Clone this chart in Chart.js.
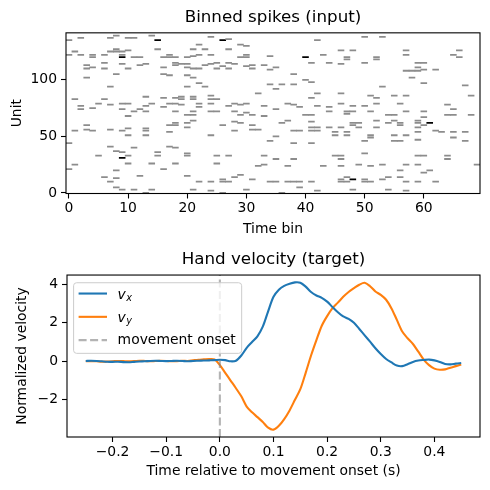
<!DOCTYPE html>
<html>
<head>
<meta charset="utf-8">
<title>Binned spikes / Hand velocity</title>
<script src="https://cdn.jsdelivr.net/npm/chart.js"></script>
<style>
  html, body { margin: 0; padding: 0; background: #fff; }
  .panel { position: absolute; left: 0; width: 490px; height: 245px; }
  #top { top: 0; }
  #bottom { top: 245px; }
</style>
</head>
<body>
<div class="panel" id="top"><canvas id="spikeChart" width="490" height="245"></canvas></div>
<div class="panel" id="bottom"><canvas id="velChart" width="490" height="245"></canvas></div>
<script>
// ---- raster data (time bin, unit) ----
const nBins = 70;
const nUnits = 142;
const binTicks = [0, 10, 20, 30, 40, 50, 60];
const unitTicks = [0, 50, 100];

// single spikes
const spikeBins = [
  0,2,7,10,11,8,14,22,15,21,23,10,1,7,8,9,8,0,2,4,6,9,17,22,4,11,12,16,17,18,20,21,6,18,9,13,19,20,3,12,18,23,4,16,20,3,6,10,21,22,8,16,17,20,3,21,22,7,20,23,13,19,16,18,21,1,6,19,21,5,9,10,14,17,18,22,7,19,2,13,16,22,4,2,9,12,13,11,18,21,
  24,27,42,29,30,27,46,24,30,43,34,29,30,25,27,41,44,24,28,46,31,33,26,30,35,25,27,31,34,38,40,41,34,36,38,35,32,42,46,24,41,24,25,24,28,30,37,46,29,38,27,33,42,39,44,35,24,25,28,44,30,
  50,53,48,57,66,57,65,47,52,66,47,52,50,59,60,59,60,62,57,58,59,58,60,67,53,51,55,57,68,52,52,56,64,48,50,65,47,48,51,57,60,
  20,21,10,21,18,20,3,17,18,20,10,13,3,7,1,4,9,13,17,10,13,0,7,17,11,18,8,9,15,20,5,10,15,20,10,14,18,1,0,16,8,12,20,6,8,7,22,8,9,11,14,21,13,
  29,31,40,41,33,37,28,41,29,36,26,31,41,42,44,46,31,32,28,38,39,41,42,45,24,45,35,34,38,41,25,27,33,45,46,35,38,46,25,33,32,37,43,46,29,28,26,31,46,24,26,27,34,35,37,38,39,41,46,39,30,24,42,26,36,
  47,54,55,64,65,68,60,52,55,59,48,49,54,56,59,48,56,60,49,52,59,62,47,59,63,65,67,47,51,55,57,51,65,59,50,55,56,67,50,59,60,64,64,49,53,57,59,69,51,56,61,60,56,47,54,50,53,47,50,51,57,59,62,48,54,57
];
const spikeUnits = [
  135,137,137,137,137,139,139,131,127,127,127,126,125,125,125,125,127,122,122,122,122,122,122,122,120,120,120,120,120,120,120,121,115,115,114,114,114,114,113,113,113,113,111,111,111,110,110,110,110,110,105,105,104,104,102,102,97,94,94,94,85,85,84,84,85,83,83,83,83,79,79,79,79,79,79,79,78,78,77,77,76,76,75,74,74,74,72,72,72,72,
  138,136,135,131,130,127,126,122,122,122,121,120,120,115,115,115,115,114,114,114,113,113,112,112,111,110,110,110,109,105,100,98,96,96,96,92,88,88,88,86,84,83,83,79,79,79,79,79,78,78,77,77,77,76,76,74,72,72,72,72,71,
  138,138,126,126,126,122,122,120,120,120,118,118,115,115,115,111,109,109,108,108,108,102,97,95,94,86,86,86,86,84,79,79,78,77,77,74,72,72,72,72,72,
  69,69,68,64,62,62,60,60,60,58,57,57,56,56,55,55,55,55,54,51,51,44,41,41,40,40,37,36,36,35,33,33,33,33,26,26,26,25,21,21,20,15,15,14,13,10,10,5,3,3,3,3,0,
  69,69,69,69,68,64,63,63,62,62,60,60,58,58,58,58,56,56,55,55,55,55,55,54,51,51,50,46,44,44,33,33,33,33,33,30,30,30,26,25,24,24,24,24,16,14,12,12,12,10,10,10,10,10,10,10,10,10,10,5,3,2,2,0,0,
  70,69,69,69,69,69,67,64,64,64,62,62,62,62,62,60,60,60,58,58,58,55,54,54,54,54,54,51,51,51,51,49,49,47,46,46,46,46,35,33,33,33,30,25,25,25,25,25,24,20,20,18,14,14,14,12,12,10,10,10,10,10,10,3,3,2
];
// double spikes (count 2)
const doubleBins = [15, 9, 26, 40, 9, 61, 48];
const doubleUnits = [135, 120, 135, 120, 31, 62, 12];

// ---- hand velocity data ----
const times = [
  -0.25,-0.24,-0.23,-0.22,-0.21,-0.20,-0.19,-0.18,-0.17,-0.16,-0.15,-0.14,-0.13,-0.12,-0.11,-0.10,-0.09,-0.08,-0.07,-0.06,-0.05,-0.04,-0.03,-0.02,-0.01,
  0.00,0.01,0.02,0.03,0.04,0.05,0.06,0.07,0.08,0.09,0.10,0.11,0.12,0.13,0.14,0.15,0.16,0.17,0.18,0.19,0.20,0.21,0.22,0.23,0.24,0.25,0.26,0.27,0.28,0.29,
  0.30,0.31,0.32,0.33,0.34,0.35,0.36,0.37,0.38,0.39,0.40,0.41,0.42,0.43,0.44,0.45
];
const vx = [
  0.02,0.03,0.02,0.00,-0.02,-0.03,-0.02,-0.04,-0.05,-0.03,-0.01,0.00,0.02,0.03,0.02,0.01,0.02,0.03,0.02,0.00,0.02,0.03,0.04,0.05,0.06,
  0.08,0.06,0.00,0.03,0.30,0.70,1.00,1.30,1.80,2.60,3.35,3.72,3.92,4.03,4.10,4.08,3.88,3.60,3.42,3.30,3.10,2.82,2.55,2.33,2.20,2.00,1.68,1.35,1.02,0.68,
  0.38,0.12,-0.06,-0.22,-0.25,-0.15,-0.03,0.04,0.07,0.09,0.05,-0.03,-0.14,-0.16,-0.12,-0.09
];
const vy = [
  0.00,0.01,0.00,-0.02,-0.01,0.00,0.02,0.01,0.00,0.01,0.03,0.02,0.00,0.02,0.03,0.02,0.00,0.01,0.03,0.02,0.05,0.08,0.10,0.12,0.10,
  -0.20,-0.60,-1.00,-1.40,-1.82,-2.35,-2.65,-2.90,-3.15,-3.45,-3.55,-3.35,-3.00,-2.55,-2.00,-1.45,-0.60,0.30,1.10,1.85,2.35,2.76,3.05,3.35,3.60,3.80,3.98,4.08,3.90,3.63,
  3.45,3.20,2.75,2.15,1.55,1.20,0.90,0.50,0.09,-0.20,-0.38,-0.44,-0.42,-0.33,-0.25,-0.16
];
const seriesLabels = ['v_x', 'v_y'];
const onsetTime = 0;
const onsetLabel = 'movement onset';
const timeTicks = [-0.2, -0.1, 0.0, 0.1, 0.2, 0.3, 0.4];
const velTicks = [-2, 0, 2, 4];

// ---- common look ----
const FONT = 'DejaVu Sans';
const FS = 13.9;
Chart.defaults.font.family = FONT;
Chart.defaults.font.size = FS;
Chart.defaults.color = '#000';
const minus = s => String(s).replace('-', '\u2212');

const framePlugin = {
  id: 'frame',
  afterDraw(chart) {
    const {ctx, chartArea: a} = chart;
    ctx.save();
    ctx.strokeStyle = '#000';
    ctx.lineWidth = 1.1;
    ctx.strokeRect(a.left, a.top, a.right - a.left, a.bottom - a.top);
    ctx.restore();
  }
};

function tickGrid() {
  return {display: true, drawOnChartArea: false, drawTicks: true, tickLength: 5, tickColor: '#000', tickWidth: 1.1, offset: false};
}

// ---- top: spike raster ----
const singles = spikeBins.map((b, i) => ({x: b, y: [spikeUnits[i] - 0.5, spikeUnits[i] + 0.5]}));
const doubles = doubleBins.map((b, i) => ({x: b, y: [doubleUnits[i] - 0.5, doubleUnits[i] + 0.5]}));

new Chart(document.getElementById('spikeChart'), {
  type: 'bar',
  data: {
    datasets: [
      {label: '1', data: singles, backgroundColor: '#8c8c8c'},
      {label: '2', data: doubles, backgroundColor: '#000000'}
    ]
  },
  options: {
    responsive: false,
    animation: false,
    layout: {padding: {left: 0, right: 10, top: 0, bottom: 0}},
    datasets: {bar: {grouped: false, barPercentage: 1, categoryPercentage: 1, borderWidth: 0}},
    plugins: {
      legend: {display: false},
      tooltip: {enabled: false},
      title: {display: true, fullSize: false, text: 'Binned spikes (input)', color: '#000',
              font: {size: 16.7, weight: 'normal'}, padding: {top: 8, bottom: 4.8}}
    },
    scales: {
      x: {
        type: 'linear', min: -0.5, max: nBins - 0.5, offset: false,
        afterBuildTicks: s => { s.ticks = binTicks.map(v => ({value: v})); },
        afterFit: s => { s.height = 51.5; },
        grid: tickGrid(),
        border: {display: false},
        ticks: {padding: 2, maxRotation: 0, autoSkip: false},
        title: {display: true, text: 'Time bin', padding: {top: 0, bottom: 7.7}}
      },
      y: {
        type: 'linear', min: -0.5, max: nUnits - 0.5,
        afterBuildTicks: s => { s.ticks = unitTicks.map(v => ({value: v})); },
        afterFit: s => { s.width = 66; },
        grid: tickGrid(),
        border: {display: false},
        ticks: {padding: 4},
        title: {display: true, text: 'Unit', padding: {top: 8.7, bottom: 0}}
      }
    }
  },
  plugins: [framePlugin]
});

// ---- bottom: hand velocity ----
const allV = vx.concat(vy);
const vMin = Math.min(...allV), vMax = Math.max(...allV);
const tMin = Math.min(...times), tMax = Math.max(...times);
const tPad = (tMax - tMin) * 0.05, vPad = (vMax - vMin) * 0.05;

const BLUE = '#1f77b4', ORANGE = '#ff7f0e', ONSET = 'rgba(128,128,128,0.6)';
const ONSET_DASH = [8, 3.5];

const onsetPlugin = {
  id: 'onset',
  afterDatasetsDraw(chart) {
    const {ctx, chartArea: a, scales} = chart;
    const px = scales.x.getPixelForValue(onsetTime);
    ctx.save();
    ctx.strokeStyle = ONSET;
    ctx.lineWidth = 2.1;
    ctx.setLineDash(ONSET_DASH);
    ctx.beginPath();
    ctx.moveTo(px, a.bottom);
    ctx.lineTo(px, a.top);
    ctx.stroke();
    ctx.restore();
  }
};

// label with optional subscript, e.g. 'v_x'
function drawLabel(ctx, text, x, rowY, draw) {
  ctx.textBaseline = 'alphabetic';
  ctx.textAlign = 'left';
  if (text.indexOf('_') >= 0) {
    const [base, sub] = text.split('_');
    ctx.font = 'italic ' + FS + 'px "' + FONT + '"';
    const w1 = ctx.measureText(base).width;
    if (draw) ctx.fillText(base, x, rowY + 5);
    ctx.font = 'italic ' + (FS * 0.7) + 'px "' + FONT + '"';
    const w2 = ctx.measureText(sub).width;
    if (draw) ctx.fillText(sub, x + w1 + 0.5, rowY + 7.4);
    return w1 + w2 + 0.5;
  }
  ctx.font = FS + 'px "' + FONT + '"';
  if (draw) ctx.fillText(text, x, rowY + 4.2);
  return ctx.measureText(text).width;
}

const legendPlugin = {
  id: 'mplLegend',
  afterDraw(chart) {
    const {ctx, chartArea: a} = chart;
    const entries = [
      {label: seriesLabels[0], color: BLUE, dash: []},
      {label: seriesLabels[1], color: ORANGE, dash: []},
      {label: onsetLabel, color: ONSET, dash: ONSET_DASH}
    ];
    const pad = 5, handle = 28.4, textPad = 10.6, rowGap = 23.3;
    ctx.save();
    const maxW = Math.max(...entries.map(e => drawLabel(ctx, e.label, 0, 0, false)));
    const bx = a.left + 6.6, by = a.top + 7.7;
    const bw = pad + handle + textPad + maxW + pad + 1;
    const bh = 70.6;
    ctx.beginPath();
    ctx.roundRect(bx, by, bw, bh, 3);
    ctx.fillStyle = 'rgba(255,255,255,0.8)';
    ctx.fill();
    ctx.strokeStyle = '#cccccc';
    ctx.lineWidth = 1;
    ctx.stroke();
    entries.forEach((e, i) => {
      const ry = by + 10.8 + i * rowGap;
      ctx.strokeStyle = e.color;
      ctx.lineWidth = 2.1;
      ctx.setLineDash(e.dash);
      ctx.beginPath();
      ctx.moveTo(bx + pad, ry);
      ctx.lineTo(bx + pad + handle, ry);
      ctx.stroke();
      ctx.setLineDash([]);
      ctx.fillStyle = '#000';
      drawLabel(ctx, e.label, bx + pad + handle + textPad, ry, true);
    });
    ctx.restore();
  }
};

new Chart(document.getElementById('velChart'), {
  type: 'line',
  data: {
    datasets: [
      {label: seriesLabels[0], data: times.map((t, i) => ({x: t, y: vx[i]})), borderColor: BLUE},
      {label: seriesLabels[1], data: times.map((t, i) => ({x: t, y: vy[i]})), borderColor: ORANGE}
    ]
  },
  options: {
    responsive: false,
    animation: false,
    layout: {padding: {left: 0, right: 10, top: 0, bottom: 0}},
    datasets: {line: {borderWidth: 2.1, pointRadius: 0, tension: 0.3, fill: false}},
    plugins: {
      legend: {display: false},
      tooltip: {enabled: false},
      title: {display: true, fullSize: false, text: 'Hand velocity (target)', color: '#000',
              font: {size: 16.7, weight: 'normal'}, padding: {top: 5, bottom: 5}}
    },
    scales: {
      x: {
        type: 'linear', min: tMin - tPad, max: tMax + tPad,
        afterBuildTicks: s => { s.ticks = timeTicks.map(v => ({value: v})); },
        afterFit: s => { s.height = 53; },
        grid: tickGrid(),
        border: {display: false},
        ticks: {padding: 2, maxRotation: 0, autoSkip: false, callback: v => minus(v.toFixed(1))},
        title: {display: true, text: 'Time relative to movement onset (s)', padding: {top: 0, bottom: 10.7}}
      },
      y: {
        type: 'linear', min: vMin - vPad, max: vMax + vPad,
        afterBuildTicks: s => { s.ticks = velTicks.map(v => ({value: v})); },
        afterFit: s => { s.width = 67; },
        grid: tickGrid(),
        border: {display: false},
        ticks: {padding: 4, callback: v => minus(v)},
        title: {display: true, text: 'Normalized velocity', padding: {top: 13.7, bottom: 0}}
      }
    }
  },
  plugins: [onsetPlugin, framePlugin, legendPlugin]
});
</script>
</body>
</html>
